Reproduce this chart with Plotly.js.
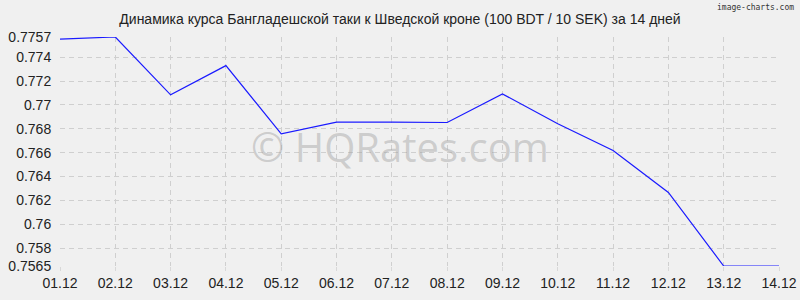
<!DOCTYPE html>
<html>
<head>
<meta charset="utf-8">
<script src="https://cdn.plot.ly/plotly-3.0.1.min.js"></script>
<style>html,body{margin:0;padding:0;background:#f0f0f0;}</style>
</head>
<body>
<div id="chart" style="width:800px;height:300px;"></div>
<script>
var dates = ["01.12","02.12","03.12","04.12","05.12","06.12","07.12","08.12","09.12","10.12","11.12","12.12","13.12","14.12"];
var rates = [0.77553,0.7757,0.77085,0.7733,0.76758,0.76856,0.76856,0.76853,0.77093,0.76842,0.76619,0.76267,0.7565,0.7565];
var yTickVals = [0.7565,0.758,0.76,0.762,0.764,0.766,0.768,0.77,0.772,0.774,0.7757];
var yTickText = ["0.7565","0.758","0.76","0.762","0.764","0.766","0.768","0.77","0.772","0.774","0.7757"];
var titleText = "Динамика курса Бангладешской таки к Шведской кроне (100 BDT / 10 SEK) за 14 дней";

var trace = {
  x: dates, y: rates, type: "scatter", mode: "lines",
  line: {color: "#1a1aff", width: 1.2}, hoverinfo: "skip"
};
var font = "Liberation Sans, Arial, sans-serif";
var layout = {
  width: 800, height: 300,
  paper_bgcolor: "#f0f0f0", plot_bgcolor: "#f0f0f0",
  margin: {l: 60, r: 21, t: 37, b: 34},
  showlegend: false,
  title: {text: titleText, font: {family: font, size: 14, color: "#222"}, x: 0.5, xanchor: "center", y: 0.935, yanchor: "middle"},
  xaxis: {
    type: "category", range: [0, 13], showline: false, zeroline: false,
    showgrid: true, gridcolor: "#cfcfcf", griddash: "5px,4px", gridwidth: 1,
    ticks: "outside", ticklen: 4, tickcolor: "#d8d8d8",
    tickfont: {family: font, size: 14, color: "#222"}
  },
  yaxis: {
    range: [0.7565, 0.7757], showline: false, zeroline: false,
    tickmode: "array", tickvals: yTickVals, ticktext: yTickText,
    showgrid: true, gridcolor: "#cfcfcf", griddash: "5px,4px", gridwidth: 1,
    ticks: "outside", ticklen: 5, tickcolor: "#f0f0f0",
    tickfont: {family: font, size: 14, color: "#222"}
  },
  annotations: [
    {xref: "paper", yref: "paper", x: 0.473, y: 0.52, text: "© HQRates.com", showarrow: false,
     font: {family: "Open Sans, sans-serif", size: 40, color: "rgba(160,160,160,0.45)"}, xanchor: "center", yanchor: "middle"},
    {xref: "paper", yref: "paper", x: 1.024, y: 1.128, text: "image-charts.com", showarrow: false,
     font: {family: "DejaVu Sans Mono, monospace", size: 8, color: "#333"}, xanchor: "right", yanchor: "middle"}
  ]
};
Plotly.newPlot("chart", [trace], layout, {staticPlot: true, displayModeBar: false});
</script>
</body>
</html>
